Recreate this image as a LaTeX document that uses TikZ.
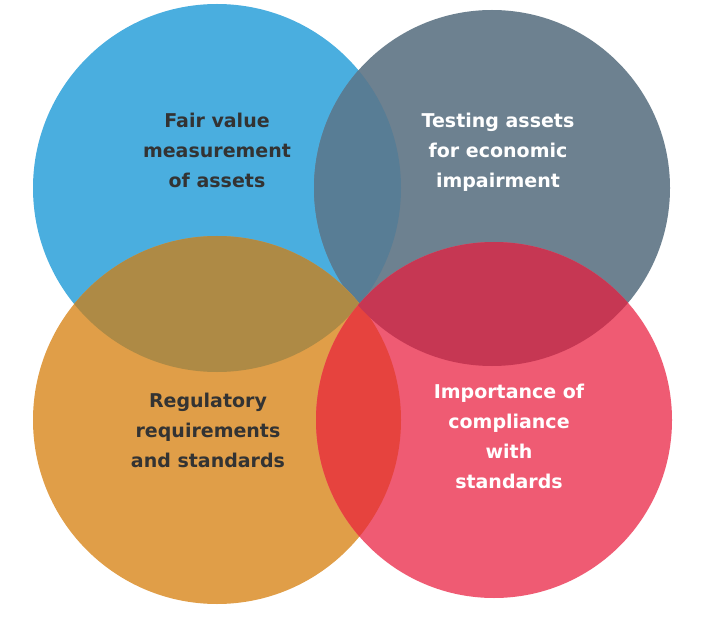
\documentclass[tikz,border=0pt]{standalone}
\usepackage{fontspec}
\setmainfont{DejaVu Sans}
\definecolor{cblue}{HTML}{4AAEDF}
\definecolor{cslate}{HTML}{6D8190}
\definecolor{corange}{HTML}{E09E48}
\definecolor{cpink}{HTML}{EF5B73}
\definecolor{cbo}{HTML}{AE8A45}
\definecolor{cbs}{HTML}{587D95}
\definecolor{cop}{HTML}{E6433E}
\definecolor{csp}{HTML}{C63753}
\begin{document}
\begin{tikzpicture}[x=1pt,y=-1pt]
\tikzstyle{Label}=[align=center, font=\fontsize{19}{30}\selectfont\bfseries];
\useasboundingbox (0,0) rectangle (709,628);
\def\cblueC{(217,188) circle (184)}
\def\cslateC{(492,188) circle (178)}
\def\corangeC{(217,420) circle (184)}
\def\cpinkC{(494,420) circle (178)}
\fill [cblue] \cblueC;
\fill [cslate] \cslateC;
\begin{scope}\clip \cblueC; \fill [cbs] \cslateC; \end{scope}
\fill [corange] \corangeC;
\begin{scope}\clip \corangeC; \fill [cbo] \cblueC; \end{scope}
\fill [cpink] \cpinkC;
\begin{scope}\clip \cpinkC; \fill [cop] \corangeC; \end{scope}
\begin{scope}\clip \cpinkC; \fill [csp] \cslateC; \end{scope}
\node [Label,text=black!80] (fair) at (217,150) {Fair value\\measurement\\of assets};
\node [Label,text=white] (test) at (498,152) {Testing assets\\for economic\\impairment};
\node [Label,text=black!80] (reg) at (208,430) {Regulatory\\requirements\\and standards};
\node [Label,text=white] (imp) at (509,436) {Importance of\\compliance\\with\\standards};
\end{tikzpicture}
\end{document}
